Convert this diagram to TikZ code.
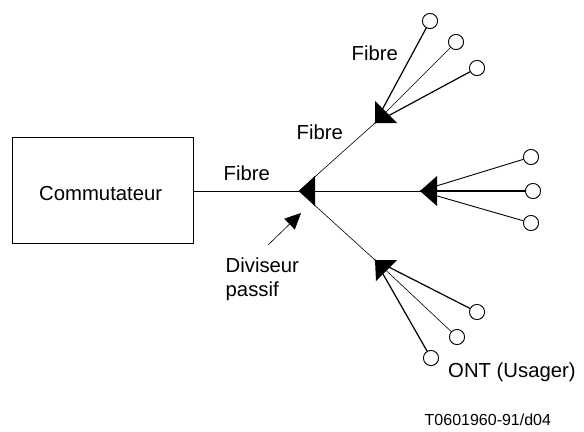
\documentclass[tikz,border=0pt]{standalone}
\usepackage{fontspec}
\setmainfont{Liberation Sans}
\usetikzlibrary{arrows.meta}
\begin{document}
\begin{tikzpicture}[x=1bp,y=-1bp,
  lbl/.style={inner sep=0pt, anchor=base west, font=\fontsize{20.3bp}{24bp}\selectfont},
  codelbl/.style={inner sep=0pt, anchor=base west, font=\fontsize{16bp}{19bp}\selectfont},
  ont/.style={circle, draw, line width=0.8bp, minimum size=15bp, inner sep=0pt, fill=white},
  fthin/.style={line width=0.6bp},
  fmid/.style={line width=0.9bp},
  fthick/.style={line width=1.2bp},
]
\useasboundingbox (0,0) rectangle (584,431);

% switch box
\node[draw, line width=0.8bp, minimum width=181bp, minimum height=106bp, inner sep=0pt] (sw) at (102.5,190) {};
\node[lbl] (swl) at (39,200) {Commutateur};

% splitter tips
\coordinate (m) at (299,191);
\coordinate (u) at (375,123);
\coordinate (r) at (420,191);
\coordinate (l) at (375,260);

% ONTs
\node[ont] (u1) at (430,21) {};
\node[ont] (u2) at (456,42) {};
\node[ont] (u3) at (477,68) {};
\node[ont] (r1) at (531,157) {};
\node[ont] (r2) at (533,191) {};
\node[ont] (r3) at (531,223) {};
\node[ont] (l1) at (477,312) {};
\node[ont] (l2) at (457,337) {};
\node[ont] (l3) at (431,358) {};

% trunk fibres
\draw[fthin] (m -| sw.east) -- (m);
\draw[fthin] (m) -- (r);
\draw[fthin] (m) -- (u);
\draw[fthin] (m) -- (l);

% drop fibres
\draw[fthick] (u) -- (u1);
\draw[fthin]  (u) -- (u2);
\draw[fthick] (u) -- (u3);
\draw[fmid]   (r) -- (r1);
\draw[line width=1.5bp] (r) -- (r2);
\draw[fmid]   (r) -- (r3);
\draw[fthick] (l) -- (l1);
\draw[fthin]  (l) -- (l2);
\draw[fthick] (l) -- (l3);

% splitters (filled triangles)
\fill (m) -- ++(16,-15) -- ++(0,30) -- cycle;
\fill (r) -- ++(17,-15) -- ++(0,30) -- cycle;
\fill (u) -- ++(0,-22) -- ++(22,22) -- cycle;
\fill (l) -- ++(22,0) -- ++(-21,21) -- cycle;

% redraw ONT circles on top
\foreach \n in {u1,u2,u3,r1,r2,r3,l1,l2,l3}{\node[ont] at (\n) {};}

% labels
\node[lbl] (f1) at (351.5,60) {Fibre};
\node[lbl] (f2) at (296.5,139.5) {Fibre};
\node[lbl] (f3) at (223.5,180) {Fibre};
\node[lbl, align=left] (div) at (225.5,296) {Diviseur\\passif};
\node[lbl] (ontl) at (448,377.5) {ONT (Usager)};
\node[codelbl] (code) at (424.5,425) {T0601960-91/d04};

% pointer to splitter
\coordinate (pa) at (268,245);
\coordinate (pb) at (301,213);
\draw[fthin, -{Triangle[length=16bp,width=15bp]}] (pa) -- (pb);
\end{tikzpicture}
\end{document}
